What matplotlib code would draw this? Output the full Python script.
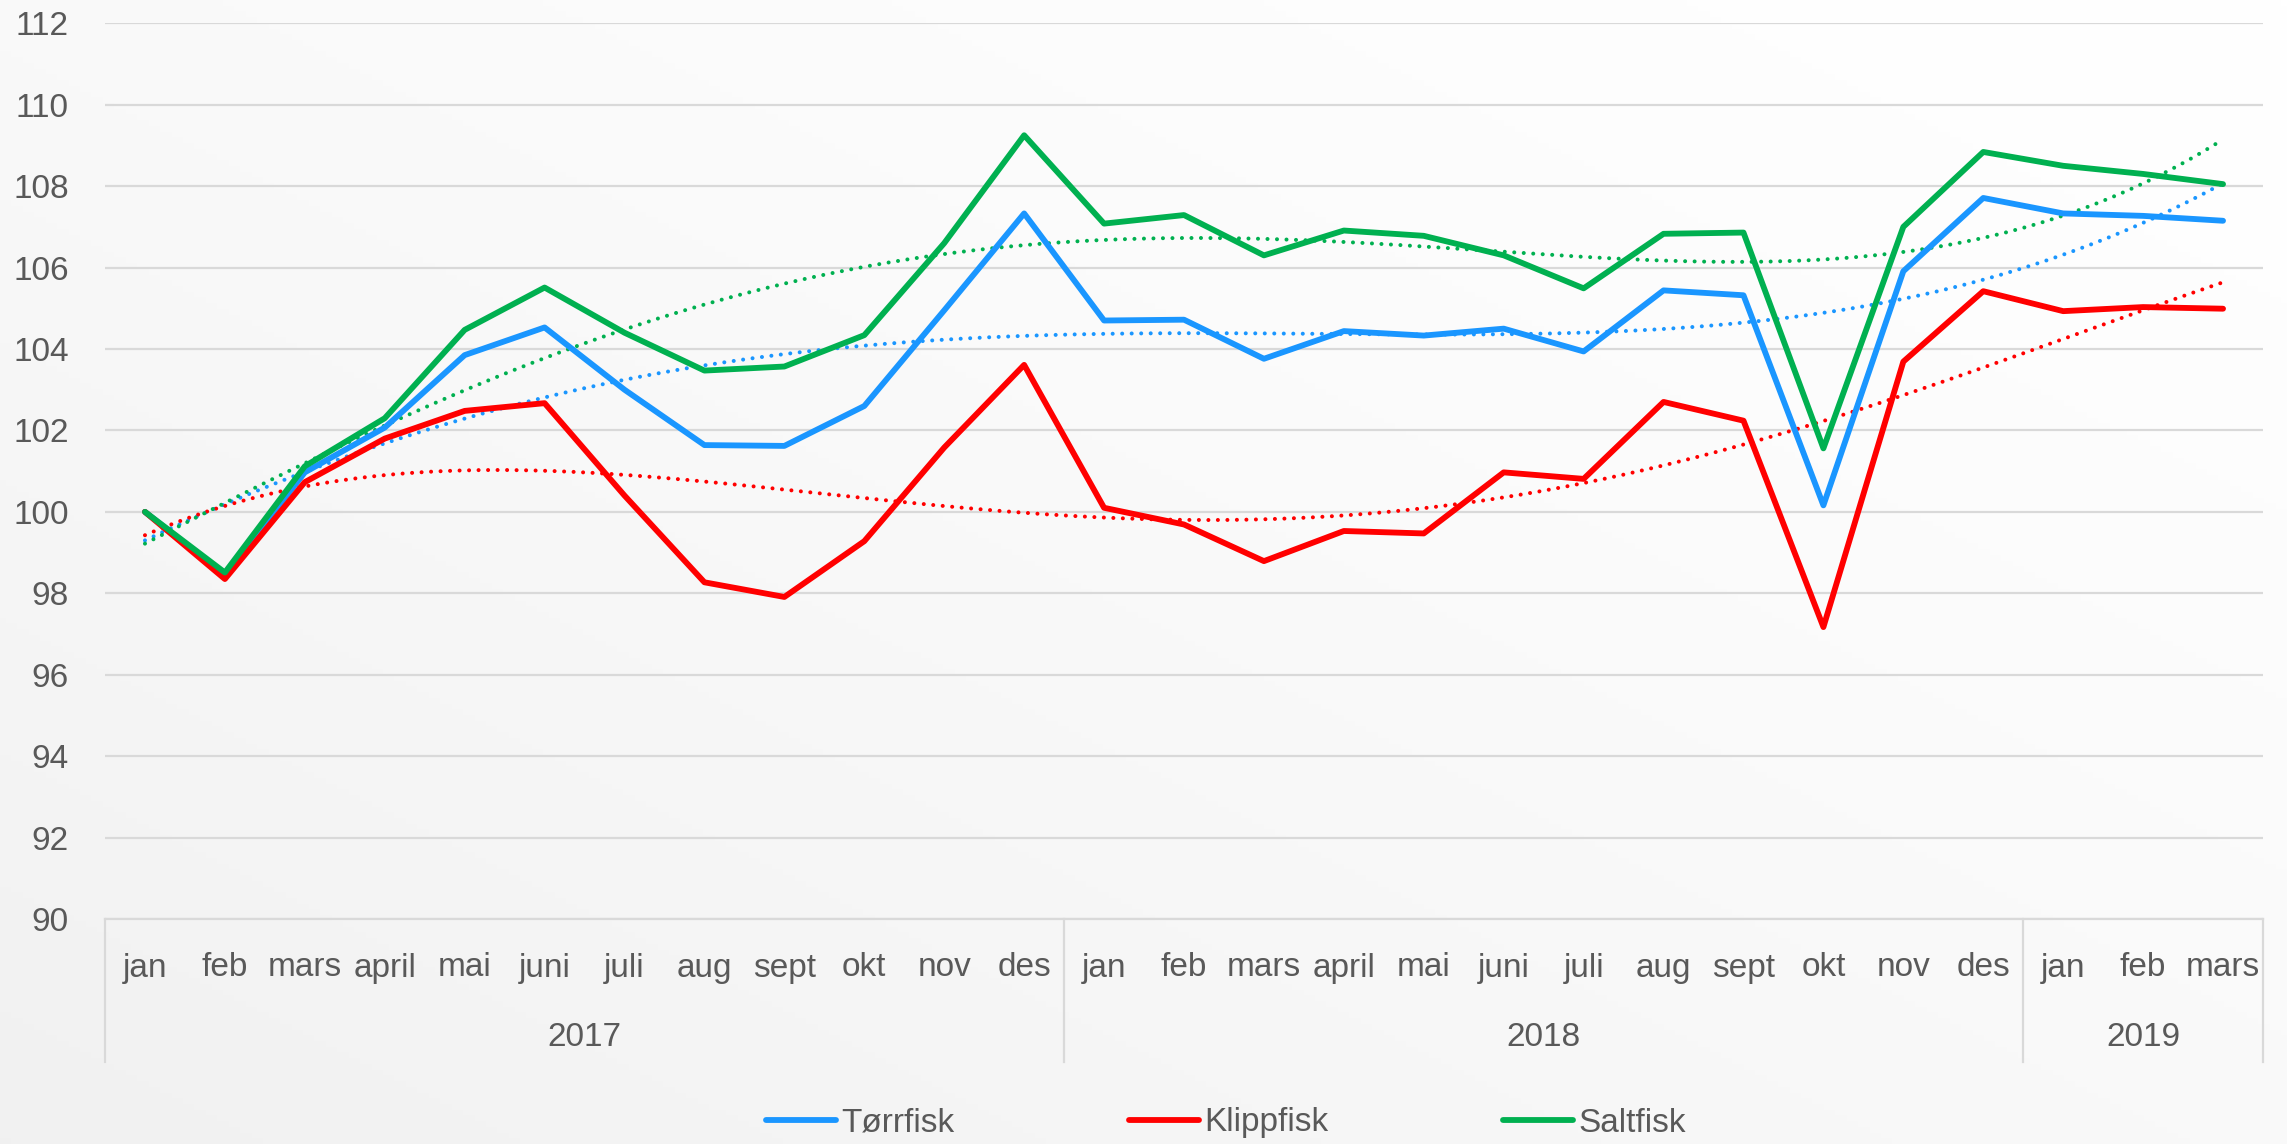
import numpy as np
import matplotlib
matplotlib.use("Agg")
import matplotlib.pyplot as plt
import matplotlib.transforms as mtransforms
from matplotlib.lines import Line2D

plt.rcParams['font.family'] = ['Liberation Sans', 'DejaVu Sans']

months = ["jan", "feb", "mars", "april", "mai", "juni", "juli", "aug", "sept", "okt", "nov", "des",
          "jan", "feb", "mars", "april", "mai", "juni", "juli", "aug", "sept", "okt", "nov", "des",
          "jan", "feb", "mars"]
years = ["2017", "2018", "2019"]
year_counts = [12, 12, 3]

torrfisk = [100.0, 98.45, 100.97, 102.07, 103.85, 104.53, 103.0, 101.64, 101.62, 102.6, 104.95, 107.33,
            104.70, 104.72, 103.76, 104.44, 104.33, 104.5, 103.94, 105.44, 105.32, 100.16, 105.91, 107.71,
            107.33, 107.27, 107.15]
klippfisk = [100.0, 98.35, 100.73, 101.8, 102.48, 102.67, 100.4, 98.27, 97.91, 99.28, 101.58, 103.61,
             100.1, 99.69, 98.79, 99.53, 99.47, 100.97, 100.81, 102.70, 102.24, 97.17, 103.69, 105.42,
             104.93, 105.03, 104.99]
saltfisk = [100.0, 98.51, 101.12, 102.30, 104.47, 105.51, 104.40, 103.47, 103.57, 104.34, 106.6, 109.25,
            107.08, 107.29, 106.30, 106.91, 106.78, 106.3, 105.49, 106.83, 106.86, 101.56, 107.0, 108.84,
            108.5, 108.3, 108.05]

series_names = ["Tørrfisk", "Klippfisk", "Saltfisk"]
series_colors = ["#1A96FF", "#FF0000", "#00B050"]
series_data = [torrfisk, klippfisk, saltfisk]
trend_order = 4  # polynomial trendline order (Excel-style)

W, H = 2287, 1144
fig = plt.figure(figsize=(W / 100, H / 100), dpi=100)

# subtle background gradient (white top-right to light gray bottom-left)
bg = fig.add_axes([0, 0, 1, 1], zorder=-10)
yy, xx = np.mgrid[0:1:200j, 0:1:400j]
d = np.clip(((1 - xx) * 0.5 + yy * 0.5), 0, 1)
vals = 1.0 - 0.055 * d ** 1.3
img = np.dstack([vals, vals, vals])
bg.imshow(img, aspect='auto', extent=[0, 1, 0, 1], origin='upper')
bg.set_axis_off()

left, right = 105 / W, 2263 / W
top_px, bot_px = 23.3, 919
ax = fig.add_axes([left, 1 - bot_px / H, right - left, (bot_px - top_px) / H])
ax.set_facecolor('none')

n = len(months)
x = np.arange(n)
ax.set_xlim(-0.5, n - 0.5)
ax.set_ylim(90, 112)
ax.set_yticks(np.arange(90, 113, 2))
ax.yaxis.grid(True, color="#d9d9d9", linewidth=1.6)
ax.set_axisbelow(True)
for s in ["top", "right", "left"]:
    ax.spines[s].set_visible(False)
ax.spines["bottom"].set_color("#d9d9d9")
ax.spines["bottom"].set_linewidth(1.6)
ax.tick_params(axis='y', length=0, pad=26, labelsize=24, labelcolor="#595959")
ax.set_xticks([])

handles = []
for name, col, data in zip(series_names, series_colors, series_data):
    h, = ax.plot(x, data, color=col, linewidth=4.2, solid_joinstyle='round',
                 solid_capstyle='round', zorder=3, label=name)
    handles.append(h)

# polynomial trendlines
xf = np.linspace(0, n - 1, 400)
for col, data in zip(series_colors, series_data):
    coef = np.polyfit(x + 1, data, trend_order)
    ax.plot(xf, np.polyval(coef, xf + 1), color=col, linewidth=2.9, linestyle=(0, (0.01, 2.35)),
            dash_capstyle='round', zorder=2)

# category axis (months + years)
trans = mtransforms.blended_transform_factory(ax.transData, ax.transAxes)
ax_h = bot_px - top_px
month_y = -(968 - bot_px) / ax_h
year_y = -(1038 - bot_px) / ax_h
sep_y = -(1062 - bot_px) / ax_h
for i, m in enumerate(months):
    ax.text(i, month_y, m, transform=trans, ha='center', va='center', fontsize=24,
            color="#595959", clip_on=False)
start = 0
bounds = [-0.5]
for yr, c in zip(years, year_counts):
    ax.text(start + (c - 1) / 2, year_y, yr, transform=trans, ha='center', va='center',
            fontsize=24, color="#595959", clip_on=False)
    start += c
    bounds.append(start - 0.5)
for b in bounds:
    ax.add_line(Line2D([b, b], [0, sep_y], transform=trans, color="#d9d9d9", linewidth=1.6,
                       clip_on=False))

leg = fig.legend(handles=handles, labels=series_names, loc='center', bbox_to_anchor=(0.536, 1 - 1123 / H),
                 ncol=3, frameon=False, fontsize=24, handlelength=2.1, handletextpad=0.15,
                 columnspacing=5.25)
for t in leg.get_texts():
    t.set_color("#595959")
for lh in leg.get_lines():
    lh.set_linewidth(4.2)
    lh.set_solid_capstyle('round')

fig.savefig("out.png", dpi=100)
